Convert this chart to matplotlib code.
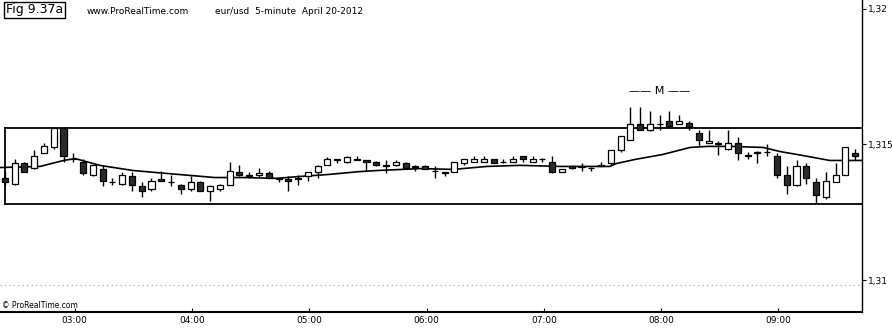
import matplotlib.pyplot as plt
from matplotlib.ticker import FuncFormatter

# eur/usd 5-minute bars, April 20 2012, first bar 02:25
opens = [1.31378, 1.31356, 1.31430, 1.31415, 1.31470, 1.31489, 1.31559, 1.31448, 1.31434, 1.31386,
         1.31411, 1.31363, 1.31356, 1.31382, 1.31345, 1.31334, 1.31372, 1.31363, 1.31352, 1.31334,
         1.31363, 1.31327, 1.31334, 1.31352, 1.31400, 1.31386, 1.31386, 1.31393, 1.31375, 1.31371,
         1.31375, 1.31382, 1.31400, 1.31426, 1.31445, 1.31437, 1.31441, 1.31441, 1.31437, 1.31423,
         1.31423, 1.31430, 1.31419, 1.31419, 1.31404, 1.31393, 1.31400, 1.31430, 1.31437, 1.31437,
         1.31445, 1.31437, 1.31437, 1.31456, 1.31437, 1.31448, 1.31434, 1.31400, 1.31419, 1.31419,
         1.31415, 1.31419, 1.31430, 1.31478, 1.31518, 1.31577, 1.31552, 1.31577, 1.31585, 1.31574,
         1.31581, 1.31541, 1.31507, 1.31504, 1.31485, 1.31504, 1.31456, 1.31474, 1.31474, 1.31456,
         1.31386, 1.31349, 1.31419, 1.31363, 1.31308, 1.31363, 1.31389, 1.31467]
highs = [1.31400, 1.31445, 1.31437, 1.31478, 1.31504, 1.31563, 1.31563, 1.31467, 1.31448, 1.31426,
         1.31423, 1.31375, 1.31397, 1.31400, 1.31363, 1.31378, 1.31404, 1.31386, 1.31356, 1.31382,
         1.31367, 1.31349, 1.31356, 1.31437, 1.31426, 1.31400, 1.31415, 1.31404, 1.31376, 1.31382,
         1.31386, 1.31400, 1.31423, 1.31452, 1.31446, 1.31459, 1.31459, 1.31442, 1.31438, 1.31441,
         1.31441, 1.31437, 1.31423, 1.31423, 1.31419, 1.31400, 1.31437, 1.31448, 1.31456, 1.31456,
         1.31448, 1.31448, 1.31456, 1.31457, 1.31459, 1.31449, 1.31456, 1.31408, 1.31420, 1.31430,
         1.31416, 1.31437, 1.31478, 1.31530, 1.31640, 1.31640, 1.31625, 1.31607, 1.31625, 1.31607,
         1.31585, 1.31552, 1.31552, 1.31511, 1.31552, 1.31526, 1.31474, 1.31475, 1.31500, 1.31467,
         1.31419, 1.31441, 1.31430, 1.31375, 1.31400, 1.31430, 1.31489, 1.31485]
lows = [1.31352, 1.31352, 1.31397, 1.31411, 1.31467, 1.31485, 1.31434, 1.31437, 1.31389, 1.31382,
        1.31345, 1.31352, 1.31352, 1.31330, 1.31308, 1.31327, 1.31367, 1.31345, 1.31319, 1.31330,
        1.31327, 1.31293, 1.31330, 1.31349, 1.31382, 1.31375, 1.31375, 1.31375, 1.31363, 1.31330,
        1.31352, 1.31367, 1.31375, 1.31423, 1.31430, 1.31430, 1.31441, 1.31404, 1.31419, 1.31393,
        1.31419, 1.31415, 1.31404, 1.31408, 1.31375, 1.31382, 1.31397, 1.31426, 1.31437, 1.31437,
        1.31430, 1.31430, 1.31437, 1.31437, 1.31437, 1.31434, 1.31393, 1.31400, 1.31408, 1.31404,
        1.31404, 1.31419, 1.31426, 1.31474, 1.31515, 1.31552, 1.31548, 1.31555, 1.31559, 1.31574,
        1.31555, 1.31493, 1.31504, 1.31463, 1.31481, 1.31441, 1.31448, 1.31430, 1.31456, 1.31375,
        1.31319, 1.31345, 1.31356, 1.31282, 1.31300, 1.31363, 1.31386, 1.31441]
closes = [1.31360, 1.31430, 1.31400, 1.31459, 1.31496, 1.31559, 1.31459, 1.31445, 1.31393, 1.31423,
          1.31367, 1.31360, 1.31386, 1.31349, 1.31327, 1.31367, 1.31367, 1.31360, 1.31334, 1.31363,
          1.31327, 1.31345, 1.31352, 1.31404, 1.31386, 1.31384, 1.31393, 1.31378, 1.31371, 1.31367,
          1.31371, 1.31400, 1.31419, 1.31445, 1.31441, 1.31452, 1.31448, 1.31437, 1.31426, 1.31421,
          1.31434, 1.31415, 1.31417, 1.31411, 1.31402, 1.31400, 1.31437, 1.31448, 1.31448, 1.31445,
          1.31430, 1.31435, 1.31445, 1.31445, 1.31448, 1.31445, 1.31397, 1.31408, 1.31415, 1.31417,
          1.31413, 1.31423, 1.31478, 1.31530, 1.31577, 1.31555, 1.31577, 1.31574, 1.31570, 1.31585,
          1.31566, 1.31515, 1.31511, 1.31502, 1.31504, 1.31467, 1.31463, 1.31470, 1.31471, 1.31386,
          1.31349, 1.31419, 1.31375, 1.31315, 1.31367, 1.31389, 1.31489, 1.31459]

# moving average (bar position, price)
ma_pos = [-0.5, 3.6, 6.0, 7.2, 9.7, 13.1, 16.6, 21.5, 24.4, 27.8, 30.2, 33.0, 36.3, 38.1, 42.5,
          45.9, 49.3, 52.7, 56.8, 61.9, 62.6, 64.5, 67.3, 70.1, 71.9, 74.2, 77.6, 79.3, 81.7, 84.4, 87.7]
ma_val = [1.31415, 1.31419, 1.31441, 1.31448, 1.31423, 1.31404, 1.31393, 1.31378, 1.31378, 1.31375,
          1.31382, 1.31389, 1.31400, 1.31404, 1.31411, 1.31408, 1.31419, 1.31423, 1.31419, 1.31419,
          1.31430, 1.31445, 1.31463, 1.31489, 1.31493, 1.31493, 1.31489, 1.31474, 1.31459, 1.31441, 1.31441]

range_top = 1.31559
range_bottom = 1.31279

hour_pos = [7.15, 19.15, 31.15, 43.15, 55.15, 67.15, 79.15]
hour_labels = ["03:00", "04:00", "05:00", "06:00", "07:00", "08:00", "09:00"]
price_ticks = [1.31, 1.315, 1.32]

fig = plt.figure(figsize=(8.92, 3.35), dpi=100)
ax = fig.add_axes([0.0, 23/335, 862/892, 1 - 23/335])

n = len(opens)
xs = list(range(n))
ax.vlines(xs, lows, highs, color="black", lw=1.0, zorder=2)
for i in xs:
    o, c = opens[i], closes[i]
    fill = "white" if c >= o else "#2a2a2a"
    ax.bar(i, abs(c - o), bottom=min(o, c), width=0.62, color=fill,
           edgecolor="black", linewidth=0.9, zorder=3)

ax.plot(ma_pos, ma_val, color="black", lw=1.2, zorder=1)

# trading range box
ax.plot([0, 90], [range_top, range_top], color="black", lw=1.3, zorder=1)
ax.plot([0, 90], [range_bottom, range_bottom], color="black", lw=1.3, zorder=1)
ax.plot([0, 0], [range_bottom, range_top], color="black", lw=1.3, zorder=1)

# faint level line near 1.31
ax.axhline(1.30982, color="#999999", lw=0.8, ls=(0, (1, 3)), zorder=0)

ax.text(67.0, 1.31696, "\u2014\u2014 M \u2014\u2014", ha="center", va="center", fontsize=8)

ax.set_xlim(-0.5, 87.7)
ax.set_ylim(1.30882, 1.32033)
ax.set_xticks(hour_pos)
ax.set_xticklabels(hour_labels, fontsize=6.5)
ax.yaxis.tick_right()
ax.set_yticks(price_ticks)
ax.yaxis.set_major_formatter(FuncFormatter(lambda v, p: ("%g" % v).replace(".", ",")))
ax.tick_params(axis="y", labelsize=6.5, length=3, pad=1)
ax.tick_params(axis="x", direction="in", length=3, pad=3)
for s in ["top", "left"]:
    ax.spines[s].set_visible(False)
ax.spines["right"].set_linewidth(1.0)
ax.spines["bottom"].set_linewidth(1.5)

fig.text(6/892, 1 - 10/335, "Fig 9.37a", fontsize=9, va="center", ha="left",
         bbox=dict(boxstyle="square,pad=0.15", fc="white", ec="black", lw=1))
fig.text(87/892, 1 - 11/335, "www.ProRealTime.com", fontsize=6.5, va="center")
fig.text(215/892, 1 - 11/335, "eur/usd  5-minute  April 20-2012", fontsize=6.5, va="center")
fig.text(2/892, 1 - 305/335, "\u00a9 ProRealTime.com", fontsize=5.5, va="center")

fig.savefig("out.png", dpi=100, facecolor="white")
